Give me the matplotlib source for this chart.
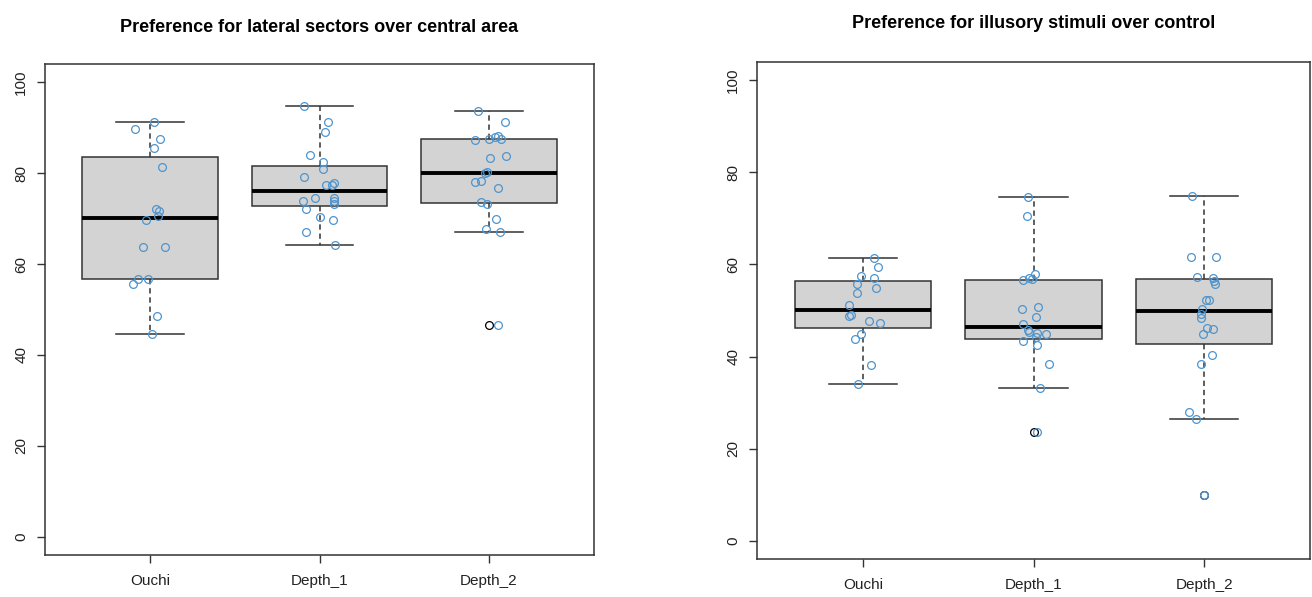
import numpy as np
import matplotlib
matplotlib.use('Agg')
import matplotlib.pyplot as plt

plt.rcParams['font.family'] = ['Liberation Sans', 'DejaVu Sans']

groups = ['Ouchi', 'Depth_1', 'Depth_2']
titles = ['Preference for lateral sectors over central area',
          'Preference for illusory stimuli over control']
yticks = [0, 20, 40, 60, 80, 100]

# Panel 1: lateral sectors over central area
lat_ouchi = [91.3, 89.6, 87.4, 85.6, 81.3, 72.1, 71.6, 70.6, 69.6, 63.8, 63.8,
             56.8, 56.6, 55.5, 48.5, 44.6]
lat_ouchi_dx = [0.024, -0.087, 0.057, 0.024, 0.069, 0.033, 0.051, 0.047, -0.026,
                -0.043, 0.087, -0.073, -0.012, -0.102, 0.039, 0.010]
lat_d1 = [94.8, 91.3, 89.0, 83.9, 82.4, 80.8, 79.1, 77.4, 77.4, 77.8, 74.5, 74.6,
          73.9, 73.3, 73.9, 72.1, 70.4, 69.7, 67.0, 64.2]
lat_d1_dx = [-0.092, 0.053, 0.031, -0.059, 0.020, 0.018, -0.092, 0.037, 0.073, 0.088,
             -0.024, 0.085, 0.087, 0.085, -0.098, -0.081, 0.0, 0.079, -0.081, 0.090]
lat_d2 = [93.7, 91.3, 87.2, 87.4, 87.9, 88.1, 87.5, 83.3, 83.8, 80.2, 80.0, 78.0,
          78.2, 76.7, 73.6, 73.1, 69.9, 67.8, 67.0, 46.5]
lat_d2_dx = [-0.063, 0.096, -0.081, 0.0, 0.035, 0.051, 0.073, 0.008, 0.100, -0.010,
             -0.024, -0.081, -0.045, 0.053, -0.045, -0.014, 0.043, -0.016, 0.067, 0.053]

# Panel 2: illusory stimuli over control
ill_ouchi = [61.4, 59.4, 57.5, 57.0, 55.8, 54.8, 53.7, 51.3, 48.7, 49.0, 47.7, 47.3,
             45.0, 43.7, 38.2, 34.1]
ill_ouchi_dx = [0.064, 0.089, -0.012, 0.064, -0.037, 0.078, -0.033, -0.080, -0.080,
                -0.068, 0.035, 0.101, -0.012, -0.047, 0.047, -0.027]
ill_d1 = [74.7, 70.6, 57.9, 56.6, 57.0, 56.8, 50.3, 50.7, 48.5, 47.0, 45.8, 45.4,
          45.2, 45.0, 44.3, 43.3, 42.6, 38.3, 33.1, 23.6]
ill_d1_dx = [-0.035, -0.037, 0.008, -0.060, -0.025, -0.008, -0.070, 0.029, 0.012,
             -0.060, -0.033, -0.025, 0.021, 0.076, 0.014, -0.060, 0.023, 0.093, 0.041, 0.023]
ill_d2 = [74.9, 61.6, 61.6, 57.2, 57.1, 56.5, 55.8, 52.2, 52.2, 50.3, 49.3, 48.4,
          46.1, 46.0, 45.0, 40.4, 38.3, 28.0, 26.5, 9.8]
ill_d2_dx = [-0.074, -0.076, 0.072, -0.041, 0.054, 0.060, 0.064, 0.010, 0.031, -0.014,
             -0.019, -0.021, 0.017, 0.054, -0.008, 0.043, -0.016, -0.091, -0.049, 0.0]

panels = [
    ([lat_ouchi, lat_d1, lat_d2], [lat_ouchi_dx, lat_d1_dx, lat_d2_dx]),
    ([ill_ouchi, ill_d1, ill_d2], [ill_ouchi_dx, ill_d1_dx, ill_d2_dx]),
]


def fivenum(x):
    x = np.sort(np.asarray(x, dtype=float))
    n = len(x)
    n4 = np.floor((n + 3) / 2) / 2
    d = np.array([1, n4, (n + 1) / 2, n + 1 - n4, n]) - 1
    return 0.5 * (x[np.floor(d).astype(int)] + x[np.ceil(d).astype(int)])


def rstats(x):
    x = np.asarray(x, dtype=float)
    f = fivenum(x)
    iqr = f[3] - f[1]
    lo, hi = f[1] - 1.5 * iqr, f[3] + 1.5 * iqr
    inside = x[(x >= lo) & (x <= hi)]
    return dict(med=f[2], q1=f[1], q3=f[3], whislo=inside.min(),
                whishi=inside.max(), fliers=x[(x < lo) | (x > hi)])


W, H = 1312, 597
fig = plt.figure(figsize=(W / 100, H / 100), dpi=100)
# axes boxes in pixels: (left, top, right, bottom)
boxes = [(45, 64, 594, 555), (757, 62, 1310, 559)]
title_y = [28, 23]

edge = '#333333'
for i, (data, dxs) in enumerate(panels):
    l, t, r, b = boxes[i]
    ax = fig.add_axes([l / W, 1 - b / H, (r - l) / W, (b - t) / H])
    st = [rstats(d) for d in data]
    pos = np.arange(1, len(groups) + 1)
    ax.bxp(st, positions=pos, widths=0.8, capwidths=0.4, patch_artist=True,
           boxprops=dict(facecolor='#D3D3D3', edgecolor=edge, linewidth=1.1),
           medianprops=dict(color='black', linewidth=2.8, solid_capstyle='butt'),
           whiskerprops=dict(color=edge, linewidth=1.1, linestyle=(0, (3.5, 2.5))),
           capprops=dict(color=edge, linewidth=1.1),
           flierprops=dict(marker='o', markerfacecolor='none', markeredgecolor='black',
                           markersize=5.6, markeredgewidth=0.9))
    for k, (d, dx) in enumerate(zip(data, dxs)):
        ax.plot(pos[k] + np.asarray(dx), d, linestyle='none', marker='o',
                markerfacecolor='none', markeredgecolor='#4F94CD',
                markersize=5.6, markeredgewidth=0.9, zorder=5)
    ax.set_xlim(0.38, 3.62)
    ax.set_ylim(-4, 104)
    ax.set_xticks(pos)
    ax.set_xticklabels(groups)
    ax.set_yticks(yticks)
    ax.set_yticklabels([str(v) for v in yticks], rotation=90, va='center')
    ax.tick_params(axis='both', direction='out', length=6, width=1, color=edge,
                   labelsize=11, labelcolor='#222222')
    ax.tick_params(axis='x', pad=8)
    ax.tick_params(axis='y', pad=6)
    for s in ax.spines.values():
        s.set_color(edge)
        s.set_linewidth(1.1)
    fig.text((l + r) / 2 / W, 1 - title_y[i] / H, titles[i], ha='center', va='center',
             fontsize=13, fontweight='bold', color='black')

fig.savefig('out.png', dpi=100)
